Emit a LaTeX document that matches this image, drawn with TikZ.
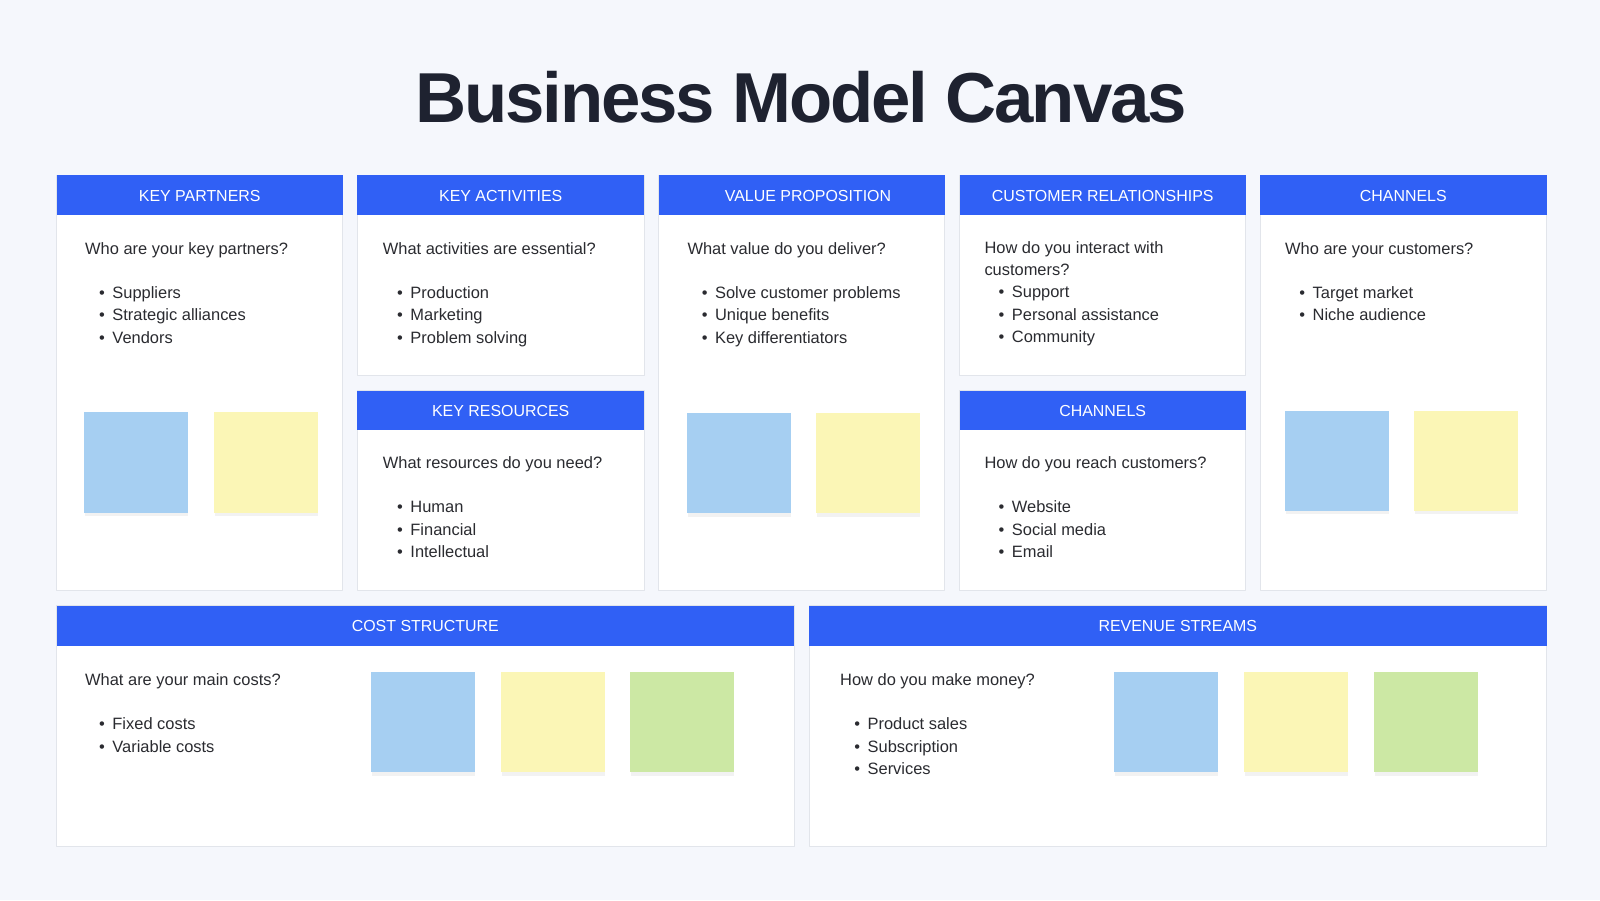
\documentclass[tikz,border=0pt]{standalone}
\usepackage{fontspec}
\setmainfont{Liberation Sans}
\usepackage{tikz}

\begin{document}
\begin{tikzpicture}[x=1bp,y=1bp,yscale=-1,line join=bevel,
  panel/.style={draw=panelline,fill=white,line width=0.9bp},
  headbar/.style={fill=headblue},
  headtext/.style={anchor=base,inner sep=0pt,text=white,font=\fontsize{16}{19}\selectfont},
  question/.style={anchor=base west,inner sep=0pt,text=bodytext,font=\fontsize{16.5}{20}\selectfont},
  bulletitem/.style={question},
  noteshadow/.style={fill=black,opacity=0.05},
  ]
  \definecolor{pagebg}{HTML}{F5F7FC}
  \definecolor{panelline}{HTML}{E2E5EB}
  \definecolor{headblue}{HTML}{3060F5}
  \definecolor{titlecol}{HTML}{1E2230}
  \definecolor{bodytext}{HTML}{2A2B30}
  \definecolor{noteblue}{HTML}{A6CFF2}
  \definecolor{noteyellow}{HTML}{FBF6B6}
  \definecolor{notegreen}{HTML}{CCE8A4}
  \newcommand{\bul}{\textbullet\hspace{7.5bp}}
  %%
  \fill[pagebg] (0,0) rectangle (1600,900);
  \useasboundingbox (0,0) rectangle (1600,900);
  % Title
  \node[anchor=base,inner sep=0pt,text=titlecol,
        font=\fontsize{71}{80}\bfseries\addfontfeature{LetterSpace=-3.0}] (title) at (801,122.5) {Business Model Canvas};
  % Panel: key partners
  \begin{scope}
    \draw[panel] (56.7,175) rectangle (342.7,590.7);
    \fill[headbar] (56.7,175) rectangle (342.7,215);
    \node[headtext] (kp-head) at (199.7,201.7) {KEY PARTNERS};
    \node[question] (kp-q) at (85,254) {Who are your key partners?};
    \node[bulletitem] (kp-1) at (99,298.3) {\bul Suppliers};
    \node[bulletitem] (kp-2) at (99,320.7) {\bul Strategic alliances};
    \node[bulletitem] (kp-3) at (99,343.1) {\bul Vendors};
    \fill[noteshadow] (85.3,416) rectangle (188.3,516.3);
    \fill[noteblue] (84.3,412.3) rectangle (188.3,513.3);
    \fill[noteshadow] (215,416) rectangle (318.3,516.3);
    \fill[noteyellow] (214,412.3) rectangle (318.3,513.3);
  \end{scope}
  % Panel: key activities
  \begin{scope}
    \draw[panel] (357.3,175) rectangle (644,375.5);
    \fill[headbar] (357.3,175) rectangle (644,215);
    \node[headtext] (ka-head) at (500.7,201.7) {KEY ACTIVITIES};
    \node[question] (ka-q) at (382.7,254) {What activities are essential?};
    \node[bulletitem] (ka-1) at (397,298.3) {\bul Production};
    \node[bulletitem] (ka-2) at (397,320.7) {\bul Marketing};
    \node[bulletitem] (ka-3) at (397,343.1) {\bul Problem solving};
  \end{scope}
  % Panel: key resources
  \begin{scope}
    \draw[panel] (357.3,390.5) rectangle (644,590.7);
    \fill[headbar] (357.3,390.5) rectangle (644,430);
    \node[headtext] (kr-head) at (500.7,416.3) {KEY RESOURCES};
    \node[question] (kr-q) at (382.7,468.3) {What resources do you need?};
    \node[bulletitem] (kr-1) at (397,512.7) {\bul Human};
    \node[bulletitem] (kr-2) at (397,535.1) {\bul Financial};
    \node[bulletitem] (kr-3) at (397,557.6) {\bul Intellectual};
  \end{scope}
  % Panel: value proposition
  \begin{scope}
    \draw[panel] (658.5,175) rectangle (944.5,590.7);
    \fill[headbar] (658.5,175) rectangle (944.5,215);
    \node[headtext] (vp-head) at (808,201.7) {VALUE PROPOSITION};
    \node[question] (vp-q) at (687.3,254) {What value do you deliver?};
    \node[bulletitem] (vp-1) at (701.6,298.3) {\bul Solve customer problems};
    \node[bulletitem] (vp-2) at (701.6,320.7) {\bul Unique benefits};
    \node[bulletitem] (vp-3) at (701.6,343.1) {\bul Key differentiators};
    \fill[noteshadow] (687.7,416.5) rectangle (790.8,516.5);
    \fill[noteblue] (686.7,413.3) rectangle (790.8,513.3);
    \fill[noteshadow] (817.3,416.5) rectangle (920.4,516.5);
    \fill[noteyellow] (816.3,413.3) rectangle (920.4,513.3);
  \end{scope}
  % Panel: customer relationships
  \begin{scope}
    \draw[panel] (959.5,175) rectangle (1245.9,375.5);
    \fill[headbar] (959.5,175) rectangle (1245.9,215);
    \node[headtext] (cr-head) at (1102.7,201.7) {CUSTOMER RELATIONSHIPS};
    \node[question] (cr-q) at (984.3,253.6) {How do you interact with};
    \node[question] (cr-q2) at (984.3,275.6) {customers?};
    \node[bulletitem] (cr-1) at (998.5,297.9) {\bul Support};
    \node[bulletitem] (cr-2) at (998.5,320.3) {\bul Personal assistance};
    \node[bulletitem] (cr-3) at (998.5,342.7) {\bul Community};
  \end{scope}
  % Panel: channels (middle)
  \begin{scope}
    \draw[panel] (959.5,390.5) rectangle (1245.9,590.7);
    \fill[headbar] (959.5,390.5) rectangle (1245.9,430);
    \node[headtext] (ch-head) at (1102.7,416.3) {CHANNELS};
    \node[question] (ch-q) at (984.3,468.3) {How do you reach customers?};
    \node[bulletitem] (ch-1) at (998.5,512.7) {\bul Website};
    \node[bulletitem] (ch-2) at (998.5,535.1) {\bul Social media};
    \node[bulletitem] (ch-3) at (998.5,557.6) {\bul Email};
  \end{scope}
  % Panel: channels (right)
  \begin{scope}
    \draw[panel] (1260,175) rectangle (1546.7,590.7);
    \fill[headbar] (1260,175) rectangle (1546.7,215);
    \node[headtext] (cu-head) at (1403.3,201.7) {CHANNELS};
    \node[question] (cu-q) at (1285,254) {Who are your customers?};
    \node[bulletitem] (cu-1) at (1299.2,298.3) {\bul Target market};
    \node[bulletitem] (cu-2) at (1299.2,320.7) {\bul Niche audience};
    \fill[noteshadow] (1285.7,414.4) rectangle (1388.8,514.4);
    \fill[noteblue] (1284.7,411.2) rectangle (1388.8,511.2);
    \fill[noteshadow] (1415.3,414.4) rectangle (1518.4,514.4);
    \fill[noteyellow] (1414.3,411.2) rectangle (1518.4,511.2);
  \end{scope}
  % Panel: cost structure
  \begin{scope}
    \draw[panel] (56.7,605.5) rectangle (794,846.5);
    \fill[headbar] (56.7,605.5) rectangle (794,645.5);
    \node[headtext] (cs-head) at (425.3,631.7) {COST STRUCTURE};
    \node[question] (cs-q) at (85,685.2) {What are your main costs?};
    \node[bulletitem] (cs-1) at (99,729.7) {\bul Fixed costs};
    \node[bulletitem] (cs-2) at (99,752.1) {\bul Variable costs};
    \fill[noteshadow] (371.7,675) rectangle (475,775.5);
    \fill[noteblue] (370.7,671.7) rectangle (475,772.3);
    \fill[noteshadow] (502,675) rectangle (605,775.5);
    \fill[noteyellow] (501,671.7) rectangle (605,772.3);
    \fill[noteshadow] (631,675) rectangle (734.3,775.5);
    \fill[notegreen] (630,671.7) rectangle (734.3,772.3);
  \end{scope}
  % Panel: revenue streams
  \begin{scope}
    \draw[panel] (809,605.5) rectangle (1546.7,846.5);
    \fill[headbar] (809,605.5) rectangle (1546.7,645.5);
    \node[headtext] (rs-head) at (1177.8,631.7) {REVENUE STREAMS};
    \node[question] (rs-q) at (840,685.2) {How do you make money?};
    \node[bulletitem] (rs-1) at (854.2,729.7) {\bul Product sales};
    \node[bulletitem] (rs-2) at (854.2,752.1) {\bul Subscription};
    \node[bulletitem] (rs-3) at (854.2,774.6) {\bul Services};
    \fill[noteshadow] (1115.3,675) rectangle (1218.3,775.5);
    \fill[noteblue] (1114.3,671.7) rectangle (1218.3,772.3);
    \fill[noteshadow] (1245,675) rectangle (1348.3,775.5);
    \fill[noteyellow] (1244,671.7) rectangle (1348.3,772.3);
    \fill[noteshadow] (1375,675) rectangle (1477.7,775.5);
    \fill[notegreen] (1374,671.7) rectangle (1477.7,772.3);
  \end{scope}
  %
\end{tikzpicture}
\end{document}
